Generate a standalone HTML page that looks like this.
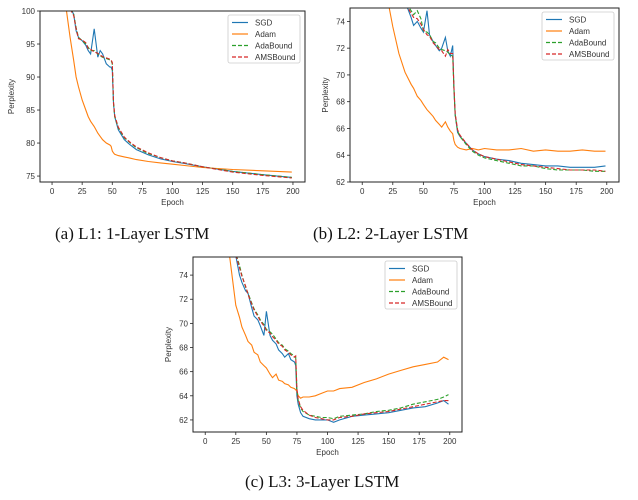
<!DOCTYPE html>
<html><head><meta charset="utf-8">
<style>
html,body{margin:0;padding:0;background:#fff;}
body{width:638px;height:500px;position:relative;overflow:hidden;}
.cap{position:absolute;font-family:"Liberation Serif",serif;font-size:17px;color:#111;white-space:nowrap;}
svg text{font-family:"Liberation Sans",sans-serif;fill:#333;}
</style></head>
<body>
<svg id="fig" width="638" height="500" style="position:absolute;left:0;top:0"></svg>
<div class="cap" style="left:55px;top:224px;">(a) L1: 1-Layer LSTM</div>
<div class="cap" style="left:313px;top:224px;">(b) L2: 2-Layer LSTM</div>
<div class="cap" style="left:245px;top:472px;">(c) L3: 3-Layer LSTM</div>
<script>
// ---------- Plot 1 data ----------
const epochs1 = [12,15,18,20,22,25,28,30,32,35,38,40,42,45,48,49,50,51,52,55,60,65,70,80,90,100,110,125,150,175,199];
const sgd1 = [101,100.5,99.5,97,96,95.5,94.8,94,93.5,97.3,93,94,93.5,92,91.5,91.5,91,86,84,82,80.5,79.7,79,78.2,77.6,77.2,76.9,76.4,75.7,75.2,74.8];
const adam1 = [100,96,92.5,90,88.5,86.5,85,84,83.3,82.5,81.5,81,80.5,80,79.7,79.5,78.8,78.5,78.3,78.1,77.9,77.7,77.5,77.2,77,76.8,76.6,76.3,76,75.8,75.6];
const adabound1 = [101,100.5,99.5,97.5,96,95.5,95,94.5,94,94,93.5,93.2,93,92.8,92.6,92.5,92,86,84,82.3,80.8,80,79.3,78.4,77.8,77.3,77,76.4,75.7,75.2,74.8];
const amsbound1 = [101,100.3,99.3,97.3,95.8,95.6,95.2,94.3,94.2,93.8,93.6,93.3,93.1,92.9,92.7,92.6,92.2,86.2,84.2,82.4,80.9,80.1,79.4,78.5,77.8,77.3,77,76.4,75.6,75.1,74.7];
const yTicks1 = [75,80,85,90,95,100];
// ---------- Plot 2 data ----------
const epochs2 = [20,25,30,35,40,42,45,48,50,53,55,58,60,63,65,68,70,72,74,75,76,78,80,85,90,95,100,110,120,130,140,150,160,170,180,190,199];
const sgd2 = [80,78,76.5,75.5,74.3,73.7,74,73.5,73.2,74.8,73,72.5,72.2,71.8,72,72.8,71.8,71.4,72.2,69,67,65.7,65.4,64.9,64.4,64.1,63.9,63.7,63.6,63.4,63.3,63.2,63.2,63.1,63.1,63.1,63.2];
const adam2 = [76,73.6,71.6,70.2,69.3,69.0,68.4,68.1,67.8,67.4,67.2,66.9,66.6,66.3,66.1,66.5,66.1,65.8,65.6,65.1,64.8,64.6,64.5,64.4,64.5,64.4,64.5,64.4,64.4,64.5,64.3,64.4,64.3,64.3,64.4,64.3,64.3];
const adabound2 = [80,78,76.5,75.5,74.8,74.5,74.8,74.2,73.3,73.2,73,72.5,72.4,72,71.9,71.8,71.7,71.5,71.4,69,67,65.8,65.4,64.8,64.3,64,63.8,63.6,63.4,63.2,63.2,63,62.9,62.9,62.9,62.8,62.8];
const amsbound2 = [80,78,76.5,75.4,74.6,74.3,74.2,73.8,73.4,73.0,72.9,72.4,72.2,71.9,71.8,71.4,71.9,71.6,71.6,69.2,67.1,65.9,65.5,64.9,64.4,64.1,63.9,63.7,63.5,63.3,63.2,63.1,63.0,62.9,62.9,62.9,62.8];
const yTicks2 = [62,64,66,68,70,72,74];
// ---------- Plot 3 data ----------
const epochs3 = [15,20,25,28,30,33,35,38,40,43,45,48,50,53,55,58,60,63,65,68,70,73,74,75,76,78,80,85,90,95,100,105,110,120,130,140,150,160,170,180,190,195,199];
const sgd3 = [80,78,75.6,74,73.4,72.7,72.5,71.3,70.6,70.3,69.8,69,71,69,68.6,68.3,67.8,67.5,67.2,67.5,67,66.8,66.5,64,63.3,62.6,62.3,62.1,62,62,62,61.8,62,62.3,62.4,62.5,62.6,62.8,63,63.1,63.4,63.6,63.3];
const adam3 = [78,75.5,71.5,70.5,69.7,69,68.5,68.2,67.6,67.4,66.8,66.5,66.3,65.8,65.5,65.8,65.3,65.2,65,64.9,64.7,64.6,64.5,64.4,64.0,63.8,63.9,63.9,64,64.2,64.4,64.4,64.6,64.7,65.1,65.4,65.8,66.1,66.4,66.6,66.8,67.2,67];
const adabound3 = [80,78,75.8,74.8,74,73,72.5,71.7,71.2,70.7,70.3,69.9,69.5,69.3,69.1,68.7,68.4,68.2,67.9,67.7,67.5,67.3,67.2,64.5,63.6,63,62.7,62.4,62.3,62.2,62.2,62.1,62.3,62.4,62.5,62.7,62.8,63,63.3,63.5,63.7,63.9,64.1];
const amsbound3 = [80,78,75.7,74.6,73.9,73.1,72.4,71.6,71.1,70.6,70.2,69.8,69.4,69.2,68.9,68.6,68.3,68.1,67.8,67.6,67.4,67.2,67.3,64.6,63.7,63.1,62.8,62.4,62.2,62.1,62.0,62.0,62.2,62.3,62.5,62.6,62.7,62.9,63.1,63.3,63.5,63.6,63.6];
const yTicks3 = [62,64,66,68,70,72,74];
const xTicks = [0,25,50,75,100,125,150,175,200];
const seriesNames = ['SGD','Adam','AdaBound','AMSBound'];

const NS='http://www.w3.org/2000/svg';
const svg=document.getElementById('fig');
function mk(tag,attrs,parent){const e=document.createElementNS(NS,tag);for(const k in attrs)e.setAttribute(k,attrs[k]);(parent||svg).appendChild(e);return e;}
const colors=['#1f77b4','#ff7f0e','#2ca02c','#d62728'];
const dashes=['','','4,2','4,2'];

function plot(id,box,xlim,ylim,yTicks,epochs,series,legend){
  const g=mk('g',{});
  
  
  const [L,T,R,B]=box;
  const xs=v=>L+(v-xlim[0])/(xlim[1]-xlim[0])*(R-L);
  const ys=v=>B-(v-ylim[0])/(ylim[1]-ylim[0])*(B-T);
  const cp=mk('clipPath',{id:'clip'+id},g);
  mk('rect',{x:L,y:T,width:R-L,height:B-T},cp);
  series.forEach((s,i)=>{
    const d=epochs.map((e,j)=>(j?'L':'M')+xs(e).toFixed(1)+','+ys(s[j]).toFixed(1)).join('');
    const p=mk('path',{d:d,fill:'none',stroke:colors[i],'stroke-width':1.1,'stroke-dasharray':dashes[i],'clip-path':'url(#clip'+id+')'},g);
    
    
  });
  const fr=mk('rect',{x:L,y:T,width:R-L,height:B-T,fill:'none',stroke:'#222','stroke-width':1},g);
  
  
  xTicks.forEach(t=>{
    const x=xs(t);
    mk('line',{x1:x,x2:x,y1:B,y2:B+3,stroke:'#222','stroke-width':0.8},g);
    const tx=mk('text',{x:x,y:B+12,'font-size':8,'text-anchor':'middle'},g);
    tx.textContent=t;
    
    
  });
  yTicks.forEach(t=>{
    const y=ys(t);
    mk('line',{x1:L-3,x2:L,y1:y,y2:y,stroke:'#222','stroke-width':0.8},g);
    const tx=mk('text',{x:L-5,y:y+3,'font-size':8,'text-anchor':'end'},g);
    tx.textContent=t;
    
    
  });
  const xl=mk('text',{x:(L+R)/2,y:B+23,'font-size':8,'text-anchor':'middle'},g);
  xl.textContent='Epoch';
  
  
  const yx=L-(id==='a'?26:22), ymid=(T+B)/2;
  const yl=mk('text',{x:yx,y:ymid,'font-size':8,'text-anchor':'middle',transform:'rotate(-90 '+yx+' '+ymid+')'},g);
  yl.textContent='Perplexity';
  
  
  const [lx,ly]=legend;
  const lg=mk('g',{},g);
  
  
  mk('rect',{x:lx,y:ly,width:72,height:48,rx:2,fill:'#fff',stroke:'#ccc','stroke-width':0.8},lg);
  seriesNames.forEach((n,i)=>{
    const yy=ly+7.5+i*11.5;
    mk('line',{x1:lx+4,x2:lx+20,y1:yy,y2:yy,stroke:colors[i],'stroke-width':1.2,'stroke-dasharray':dashes[i]},lg);
    const t=mk('text',{x:lx+27,y:yy+3,'font-size':8},lg);
    t.textContent=n;
    
    
  });
}
plot('a',[40,11,305,182],[-10,210],[74.1,100],yTicks1,epochs1,[sgd1,adam1,adabound1,amsbound1],[228,15]);
plot('b',[350,8,619,182],[-10,210],[62,75],yTicks2,epochs2,[sgd2,adam2,adabound2,amsbound2],[542,12]);
plot('c',[193,257,462,432],[-10,210],[61,75.5],yTicks3,epochs3,[sgd3,adam3,adabound3,amsbound3],[385,261]);
</script>
</body></html>
